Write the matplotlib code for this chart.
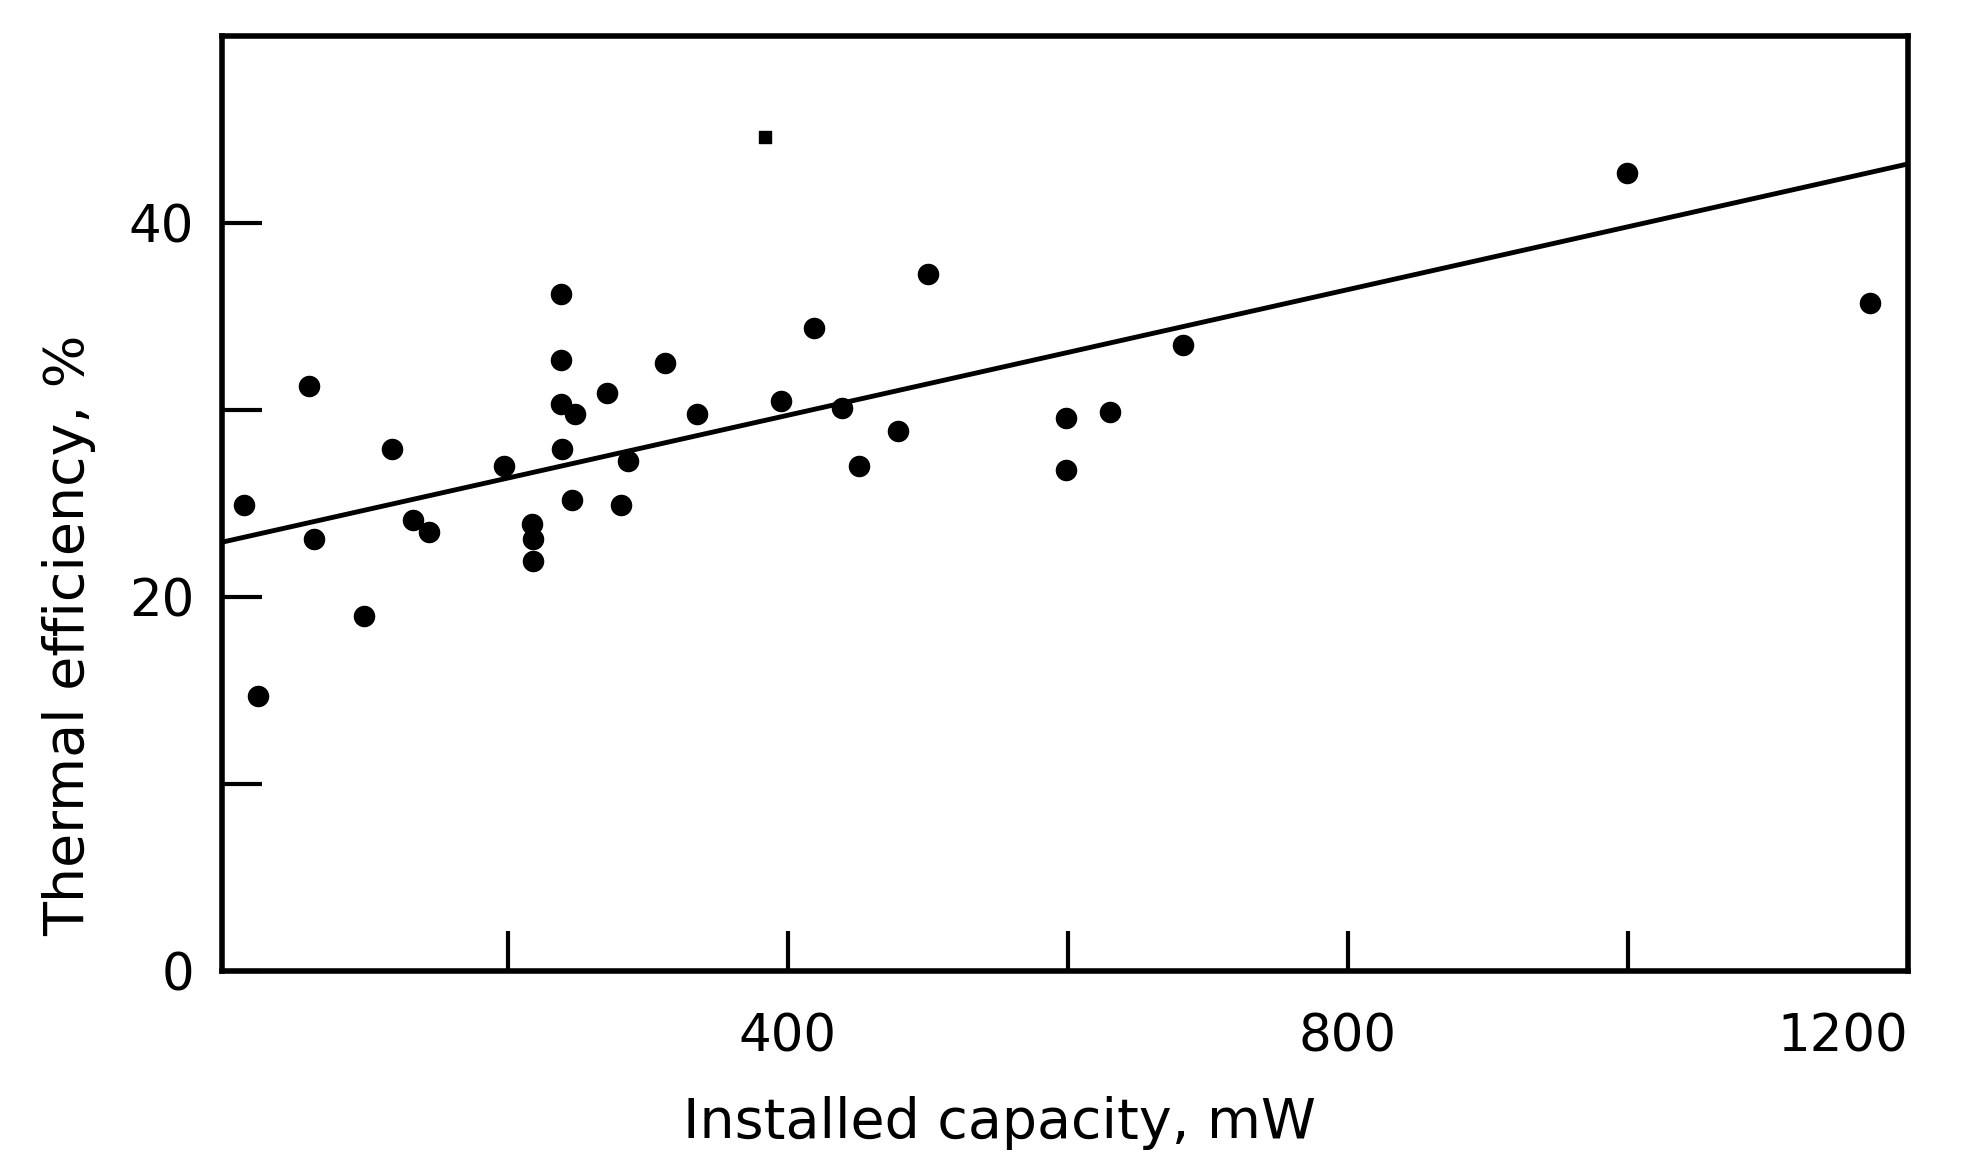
"""
Thermal efficiency vs installed capacity (scatter with fitted line)
"""

import numpy as np
import matplotlib.pyplot as plt

# plant data
capacity_mw = [12, 22, 58, 62, 97, 117, 132, 144, 197, 217, 218, 218,
               238, 238, 238, 248, 239, 246, 271, 286, 281, 312, 335,
               395, 419, 439, 451, 479, 500, 599, 599, 630, 682, 999, 1173]
efficiency_pct = [24.9, 14.7, 31.3, 23.1, 19.0, 27.9, 24.1, 23.5, 27.0, 23.9,
                  23.1, 21.9, 36.2, 32.7, 30.3, 29.8, 27.9, 25.2, 30.9, 27.3,
                  24.9, 32.5, 29.8, 30.5, 34.4, 30.1, 27.0, 28.9, 37.3, 29.6,
                  26.8, 29.9, 33.5, 42.7, 35.7]

# faintly printed point near the top
faint_x = [384]
faint_y = [44.6]

# fitted line: efficiency = intercept + slope * capacity
fit_intercept = 23.0
fit_slope = 0.0168

x_ticks = [400, 800, 1200]
x_minor = [200, 600, 1000]
y_ticks = [0, 20, 40]
y_minor = [10, 30]

plt.rcParams["font.family"] = ["DejaVu Sans"]

fig = plt.figure(figsize=(19.67, 11.55), dpi=100)
ax = fig.add_axes([0.1129, 0.1593, 0.970 - 0.1129, 0.9688 - 0.1593])

ax.scatter(capacity_mw, efficiency_pct, s=210, color="black", zorder=3)
ax.scatter(faint_x, faint_y, s=70, marker="s", color="black", zorder=3)

xlim = (-4, 1200)
xs = np.array(xlim)
ax.plot(xs, fit_intercept + fit_slope * xs, color="black", lw=3.5, zorder=2)

ax.set_xlim(*xlim)
ax.set_ylim(0, 50)

ax.set_xticks(x_ticks)
ax.set_xticks(x_minor, minor=True)
ax.set_yticks(y_ticks)
ax.set_yticks(y_minor, minor=True)
ax.set_xticklabels([str(t) for t in x_ticks])
ax.set_yticklabels([str(t) for t in y_ticks])
ax.get_xticklabels()[-1].set_horizontalalignment("right")

ax.tick_params(which="both", direction="in", length=29, width=3, color="black")
ax.tick_params(axis="x", which="major", pad=30, labelsize=37)
ax.tick_params(axis="y", which="major", pad=20, labelsize=37)

for spine in ax.spines.values():
    spine.set_linewidth(4)

fig.text(0.508, 0.028, "Installed capacity, mW", fontsize=40,
         ha="center", va="center")
fig.text(0.035, 0.19, "Thermal efficiency, %", fontsize=40,
         rotation=90, ha="center", va="bottom")

fig.savefig("out.png", dpi=100)
